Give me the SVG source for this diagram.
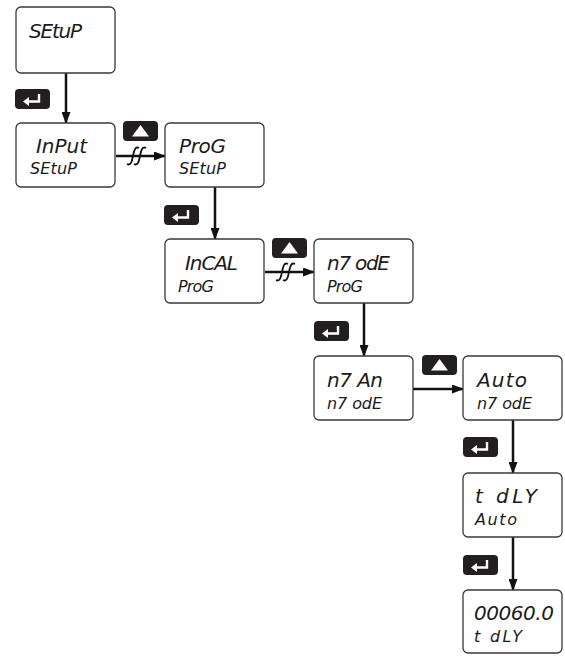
<svg xmlns="http://www.w3.org/2000/svg" width="565" height="656" viewBox="0 0 565 656">
<defs>
<style>
.box{fill:#fff;stroke:#3a3a3a;stroke-width:1.3}
.t1{font-family:"DejaVu Sans","Liberation Sans",sans-serif;font-size:20px;font-style:italic;fill:#1a1a1a}
.t2{font-family:"DejaVu Sans","Liberation Sans",sans-serif;font-size:16px;font-style:italic;fill:#1a1a1a}
.conn{stroke:#111;stroke-width:2.5;fill:none}
.brk{stroke:#111;stroke-width:1.8;fill:none}
.key{fill:#231f20}
.ent{stroke:#fff;stroke-width:2.4;fill:none}
</style>
<marker id="ah" markerWidth="12" markerHeight="9" refX="11" refY="4.5" orient="auto" markerUnits="userSpaceOnUse">
<path d="M0,0 L12,4.5 L0,9 Z" fill="#111"/>
</marker>
<g id="enter">
<rect class="key" x="0" y="0" width="35" height="20" rx="4"/>
<path class="ent" d="M24,5 V12.5 H13"/>
<path d="M8,12.5 L14,8 L14,17 Z" fill="#fff"/>
</g>
<g id="up">
<rect class="key" x="0" y="0" width="35" height="20" rx="4"/>
<path d="M17.5,4 L26,15.5 L9,15.5 Z" fill="#fff"/>
</g>
</defs>

<g id="connectors">
<line class="conn" x1="66" y1="73" x2="66" y2="123" marker-end="url(#ah)"/>
<line class="conn" x1="116" y1="156" x2="165" y2="156" marker-end="url(#ah)"/>
<path class="brk" d="M127,164 C131,166 132,161 133,156 C134,151 135,146 139,148 M134,164 C138,166 139,161 140,156 C141,151 142,146 146,148"/>
<line class="conn" x1="265" y1="272" x2="314" y2="272" marker-end="url(#ah)"/>
<path class="brk" d="M276,280 C280,282 281,277 282,272 C283,267 284,262 288,264 M283,280 C287,282 288,277 289,272 C290,267 291,262 295,264"/>
<line class="conn" x1="215" y1="187" x2="215" y2="239" marker-end="url(#ah)"/>
<line class="conn" x1="364" y1="303" x2="364" y2="356" marker-end="url(#ah)"/>
<line class="conn" x1="413" y1="389" x2="463" y2="389" marker-end="url(#ah)"/>
<line class="conn" x1="513" y1="420" x2="513" y2="473" marker-end="url(#ah)"/>
<line class="conn" x1="513" y1="537" x2="513" y2="590" marker-end="url(#ah)"/>
</g>

<g id="keys">
<use href="#enter" x="15" y="89"/>
<use href="#up" x="123" y="121"/>
<use href="#enter" x="164" y="205"/>
<use href="#up" x="272" y="238"/>
<use href="#enter" x="314" y="321"/>
<use href="#up" x="422" y="355"/>
<use href="#enter" x="463" y="437"/>
<use href="#enter" x="463" y="555"/>
</g>

<g id="n-setup">
<rect class="box" x="16" y="7" width="99" height="66" rx="5"/>
<text class="t1" x="29" y="38" textLength="53">SEtuP</text>
</g>
<g id="n-input">
<rect class="box" x="16" y="123" width="99" height="64" rx="5"/>
<text class="t1" x="36" y="153" textLength="51">InPut</text>
<text class="t2" x="30" y="174" textLength="47">SEtuP</text>
</g>
<g id="n-prog">
<rect class="box" x="165" y="123" width="99" height="64" rx="5"/>
<text class="t1" x="179" y="153" textLength="47">ProG</text>
<text class="t2" x="179" y="174" textLength="47">SEtuP</text>
</g>
<g id="n-incal">
<rect class="box" x="165" y="239" width="99" height="64" rx="5"/>
<text class="t1" x="185" y="270" textLength="53">InCAL</text>
<text class="t2" x="178" y="292" textLength="36">ProG</text>
</g>
<g id="n-mode">
<rect class="box" x="314" y="239" width="99" height="64" rx="5"/>
<text class="t1" x="327" y="270" textLength="63">n7 odE</text>
<text class="t2" x="327" y="292" textLength="36">ProG</text>
</g>
<g id="n-man">
<rect class="box" x="314" y="356" width="99" height="64" rx="5"/>
<text class="t1" x="327" y="387" textLength="56">n7 An</text>
<text class="t2" x="327" y="409" textLength="55">n7 odE</text>
</g>
<g id="n-auto">
<rect class="box" x="463" y="356" width="99" height="64" rx="5"/>
<text class="t1" x="477" y="387" textLength="50">Auto</text>
<text class="t2" x="477" y="409" textLength="55">n7 odE</text>
</g>
<g id="n-tdly">
<rect class="box" x="463" y="473" width="99" height="64" rx="5"/>
<text class="t1" x="475" y="503" textLength="62">t dLY</text>
<text class="t2" x="475" y="525" textLength="42">Auto</text>
</g>
<g id="n-val">
<rect class="box" x="463" y="590" width="99" height="63" rx="5"/>
<text class="t1" x="474" y="620" textLength="80">00060.0</text>
<text class="t2" x="474" y="642" textLength="48">t dLY</text>
</g>
</svg>
